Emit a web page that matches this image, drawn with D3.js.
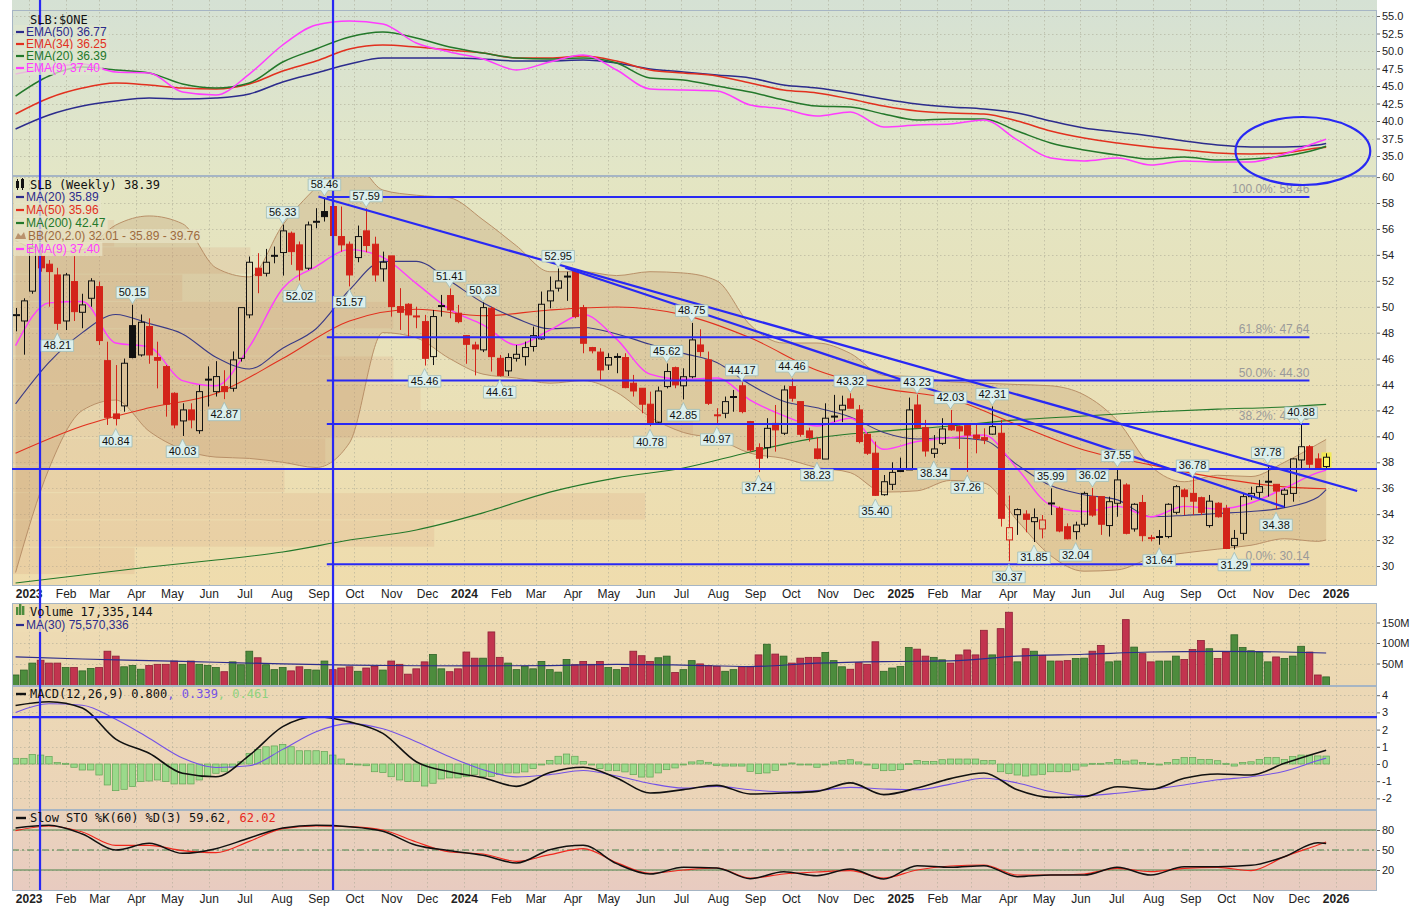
<!DOCTYPE html>
<html>
<head>
<meta charset="utf-8">
<script src="https://cdn.jsdelivr.net/npm/d3@7"></script>
<style>
  body { margin: 0; background: #fff; }
  svg { display: block; }
  text { font-family: "Liberation Sans", Arial, sans-serif; }
  .mono { font-family: "DejaVu Sans Mono", monospace; }
</style>
</head>
<body>
<svg id="chart" width="1416" height="908"></svg>
<script>
// ---------- data (weekly bars, first bar = week of 2022-12-19) ----------
const firstWeek = new Date(2022, 11, 21);

const opens = [
  49.3,48.9,51.2,53.9,53.28,52.45,48.9,51.94,49.57,50.65,
  51.55,45.84,41.73,42.35,48.54,46.28,48.47,46.08,45.38,43.32,
  41.19,42.04,40.44,44.35,43.45,43.84,43.71,46.02,49.37,52.97,
  52.58,53.9,54.18,55.67,54.77,52.97,56.5,57.34,57.73,55.41,
  54.82,53.79,55.85,54.82,52.92,53.92,50.01,50.19,49.3,48.85,
  46.15,50.0,50.86,49.5,47.77,47.05,46.67,49.88,46.02,45.05,
  46.02,46.15,46.93,47.52,50.45,51.43,52.3,52.71,49.93,46.85,
  46.5,45.5,46.1,46.08,44.1,43.71,42.48,41.09,43.84,45.3,
  43.9,44.6,47.05,45.9,41.65,41.78,43.0,43.9,41.14,39.13,
  39.13,41.0,40.24,43.84,42.68,40.42,39.03,38.25,41.5,42.04,
  42.89,42.04,40.16,38.7,35.5,36.3,37.3,37.41,42.42,40.67,
  38.69,39.46,40.83,40.75,40.83,40.1,39.9,40.17,40.24,32.01,
  33.96,34.0,33.42,32.86,34.8,34.45,33.03,32.65,33.22,35.35,
  35.35,33.12,34.84,36.25,32.86,34.9,32.2,32.2,32.27,34.14,
  35.86,35.6,35.27,33.12,34.84,34.45,31.57,32.52,35.35,35.68,
  36.5,36.3,35.53,35.6,38.18,39.2,38.26,37.67];
const highs = [
  49.9,50.65,55.2,54.4,53.6,53.0,52.6,53.9,51.0,52.2,
  51.94,47.3,45.5,46.0,50.15,49.4,49.1,47.3,45.5,43.4,
  42.55,42.55,43.97,45.4,45.8,45.1,46.55,49.93,53.87,54.13,
  54.46,54.64,56.33,55.8,55.03,56.57,57.6,58.46,58.11,57.73,
  55.03,56.26,57.59,55.4,54.25,53.92,51.43,50.27,50.0,49.37,
  49.75,50.91,51.41,50.14,47.8,47.3,50.33,50.0,46.28,46.41,
  47.05,47.31,48.47,51.17,52.33,52.95,52.7,52.84,50.14,46.9,
  46.8,46.41,46.41,46.41,44.74,43.71,43.45,43.84,45.62,45.38,
  45.25,48.75,48.26,46.54,42.17,43.07,43.58,44.17,41.19,39.46,
  41.4,42.42,43.92,44.46,42.68,40.67,39.9,42.55,43.2,43.14,
  43.32,42.42,40.24,39.6,37.02,38.0,38.36,42.99,43.23,41.27,
  40.1,41.4,42.03,40.83,40.83,40.88,40.62,42.31,41.27,35.43,
  34.44,34.3,34.44,33.93,35.99,34.58,33.29,33.42,35.74,36.02,
  35.35,35.35,37.55,36.38,34.84,35.48,32.4,32.78,34.84,36.25,
  35.99,36.78,35.35,35.48,34.92,34.7,32.78,35.6,36.12,36.64,
  37.78,36.3,35.99,38.31,40.88,39.33,38.69,38.69];
const lows = [
  48.1,46.3,51.0,52.7,50.0,48.21,48.2,48.9,48.34,50.0,
  47.05,40.88,40.84,41.9,46.02,46.15,45.6,43.7,41.52,40.62,
  40.03,40.62,40.2,42.3,43.07,42.87,43.45,45.77,49.11,51.04,
  52.33,53.35,52.4,53.23,52.02,52.84,56.05,56.57,55.28,54.25,
  51.57,53.43,54.2,51.94,51.94,49.24,48.21,47.7,48.34,45.46,
  45.5,49.24,49.11,48.72,45.6,44.7,46.5,45.0,44.61,44.65,
  45.77,45.46,46.54,47.44,49.88,51.17,50.45,49.11,46.41,46.4,
  44.35,45.12,44.87,43.71,43.07,41.78,40.78,41.01,43.7,43.71,
  42.85,44.48,46.15,42.42,40.97,41.4,41.9,41.78,38.82,37.24,
  38.31,38.82,40.1,42.68,39.98,39.6,38.23,38.25,41.1,41.1,
  42.17,39.46,38.57,35.4,35.42,35.86,37.28,37.41,40.62,38.44,
  38.34,39.34,40.42,39.03,37.26,38.69,39.4,40.12,33.04,30.37,
  32.4,32.6,31.85,32.13,33.93,32.6,32.06,32.04,33.04,33.8,
  32.4,32.27,33.8,32.44,32.65,31.9,31.9,31.64,32.14,33.99,
  33.93,33.93,33.93,32.96,33.73,31.32,31.29,32.0,35.1,35.22,
  35.35,34.38,34.5,34.96,37.48,37.43,37.41,37.54];
const closes = [
  49.4,50.45,54.6,53.0,52.71,48.72,52.45,49.62,50.14,51.99,
  47.39,41.47,41.37,45.64,46.08,48.8,46.28,45.87,42.48,40.88,
  42.04,41.27,43.45,44.4,44.61,43.45,45.9,49.93,53.43,52.4,
  53.43,53.95,55.85,54.25,52.84,56.31,56.6,56.95,55.49,54.77,
  52.45,55.41,54.72,52.45,53.43,50.01,49.57,49.37,49.2,46.02,
  49.24,50.1,49.75,48.85,47.1,46.74,49.93,46.15,44.7,46.08,
  46.33,46.85,47.77,50.19,51.22,51.99,52.35,49.24,47.18,46.6,
  45.12,46.08,46.15,43.76,43.5,42.48,41.01,43.5,45.0,43.97,
  44.6,47.44,46.54,42.55,41.6,42.68,43.07,41.91,38.95,38.31,
  40.62,40.5,43.58,42.94,40.16,39.9,38.3,41.4,41.55,42.4,
  42.17,39.6,38.7,35.45,36.5,37.22,37.35,42.04,40.67,38.87,
  39.03,40.57,40.5,40.42,40.1,39.85,39.72,40.75,33.68,32.96,
  34.35,33.6,33.73,33.55,34.85,32.7,32.1,33.16,35.6,33.93,
  33.22,34.96,36.64,32.52,34.76,32.34,32.1,32.27,34.76,36.12,
  35.35,35.0,34.14,35.0,33.8,31.35,32.13,35.35,35.6,36.12,
  36.5,35.78,35.85,38.26,39.2,37.85,37.54,38.39];
// weekly volume, millions of shares
const volumes = [
  22,34,51,58,51,51,40,40,32,38,
  40,80,68,42,45,36,45,48,48,56,
  48,56,48,45,40,30,54,47,80,64,
  47,35,40,32,42,35,34,56,35,39,
  42,31,39,43,34,56,48,24,37,54,
  72,37,30,37,78,63,63,127,65,51,
  35,43,37,55,35,29,60,47,55,48,
  55,40,35,40,80,69,55,64,68,28,
  35,57,49,45,43,31,35,42,43,71,
  97,73,68,51,63,65,65,77,57,42,
  36,52,48,103,31,39,43,89,85,68,
  65,59,51,71,83,71,131,71,135,175,
  54,86,80,70,56,56,57,62,63,80,
  94,54,56,157,90,74,54,56,56,68,
  60,84,106,86,62,78,120,89,81,78,
  54,66,62,68,92,78,22,17.335144];
const macdHist = [
  0.33,0.33,0.56,0.52,0.43,0.08,0.04,-0.19,-0.35,-0.35,
  -0.64,-1.22,-1.55,-1.47,-1.31,-1.02,-0.99,-0.93,-1.02,-1.16,
  -1.16,-1.16,-0.93,-0.74,-0.54,-0.45,-0.19,0.13,0.62,0.85,
  1.0,1.05,1.14,1.0,0.77,0.77,0.77,0.72,0.52,0.29,
  0.02,0.0,-0.1,-0.45,-0.5,-0.74,-0.93,-1.02,-1.02,-1.28,
  -1.12,-0.87,-0.81,-0.81,-0.74,-0.6,-0.72,-0.72,-0.62,-0.52,
  -0.52,-0.46,-0.27,0.0,0.21,0.45,0.58,0.45,0.15,-0.04,
  -0.27,-0.39,-0.39,-0.46,-0.62,-0.76,-0.76,-0.52,-0.33,-0.23,
  -0.04,0.12,0.19,0.1,-0.08,-0.12,-0.12,-0.12,-0.43,-0.56,
  -0.52,-0.37,-0.04,0.06,0.0,-0.04,-0.19,0.0,0.12,0.21,
  0.25,0.12,0.0,-0.27,-0.39,-0.37,-0.33,0.02,0.21,0.15,
  0.15,0.25,0.29,0.29,0.29,0.29,0.21,0.21,-0.45,-0.55,
  -0.64,-0.7,-0.64,-0.6,-0.45,-0.45,-0.45,-0.35,-0.12,0.04,
  0.04,0.08,0.27,0.17,0.23,0.08,0.04,0.0,0.08,0.27,
  0.37,0.37,0.27,0.27,0.19,0.04,-0.12,0.08,0.13,0.27,
  0.37,0.37,0.27,0.43,0.52,0.52,0.47,0.461];

// indicator lines read every 4 weeks (last value = latest bar)
const ma20 = [42.5,45.7,48.0,49.4,48.7,47.9,46.1,45.2,46.8,48.3, 51.3,53.5,53.5,52.0,50.3,49.1,48.3,48.4,47.9,47.1,
  46.4,45.7,44.0,42.7,42.2,41.5,40.3,39.8,39.9,39.7, 37.8,36.2,35.5,35.1,33.8,33.9,34.05,34.2,34.5,35.3, 35.89];
const ema9 = [47.0,50.3,50.4,47.2,46.9,44.3,43.9,46.9,51.4,53.1, 54.4,53.8,51.8,49.8,48.6,47.05,48.2,49.4,47.5,44.8,
  44.4,44.5,42.8,41.6,40.8,41.4,39.0,39.6,39.9,40.1, 37.5,34.7,34.2,34.6,33.8,34.6,34.4,34.86,36.0,37.2, 37.40];
const bbUpper = [55.1,54.2,54.4,56.3,57.0,56.4,53.0,52.3,56.3,59.2, 61.5,59.0,58.6,58.4,56.7,54.7,52.7,52.7,52.4,52.7,
  52.6,52.0,48.6,47.2,47.2,46.4,44.7,44.6,44.2,44.1, 44.0,43.9,43.2,41.2,37.7,36.5,37.0,36.9,38.0,39.4, 39.76];
const bbLower = [29.5,37.5,42.0,42.8,40.4,39.0,38.4,38.3,38.0,37.6, 39.5,48.0,47.6,46.0,44.8,44.5,44.1,44.3,43.4,41.5,
  40.3,39.8,38.7,38.3,37.6,37.2,35.7,35.8,36.6,36.4, 33.5,30.8,29.6,29.7,30.6,31.0,31.3,31.6,32.1,31.9, 32.01];
const topEma50 = [38.86,40.86,42.14,42.86,43.29,43.14,43.29,43.86,45.57,46.86, 48.14,49.0,49.0,49.0,48.86,48.57,48.57,48.71,48.29,47.43,
  47.0,46.57,46.14,45.14,44.71,44.0,43.14,42.43,42.0,41.71, 41.14,40.0,39.0,38.43,37.86,37.14,36.57,36.29,36.29,36.57, 36.77];
const topEma34 = [41.0,43.29,44.71,45.43,45.14,44.71,44.57,45.29,47.14,48.57, 50.29,50.86,50.57,50.14,49.71,49.0,49.0,49.29,48.57,47.29,
  46.86,46.43,45.43,44.43,44.0,43.14,42.14,41.43,41.14,41.0, 40.0,38.57,37.57,36.86,36.29,35.86,35.43,35.29,35.43,36.14, 36.25];
const topEma20 = [43.57,46.43,47.71,47.29,46.86,45.29,44.71,45.43,48.43,50.29, 52.0,52.71,51.86,50.57,49.71,49.0,48.86,49.0,48.29,46.14,
  45.86,45.0,44.14,43.0,42.14,42.0,41.0,40.14,40.29,40.29, 38.57,36.86,35.86,35.14,34.57,34.86,34.43,34.57,35.0,36.0, 36.39];
const topEma9 = [46.71,47.57,48.14,47.0,46.86,44.14,43.71,46.71,50.86,53.71, 54.29,53.86,51.14,49.86,48.86,47.29,48.43,49.43,47.29,44.57,
  44.43,44.29,42.29,41.71,40.71,41.29,39.14,39.43,39.57,40.14, 37.29,34.71,34.29,34.71,33.71,34.29,34.14,34.14,35.29,37.0, 37.40];
const macdLine = [3.4,3.62,3.25,1.45,0.62,-0.54,-0.74,0.5,2.17,2.75, 2.45,1.78,0.13,-0.45,-0.8,-1.3,-0.5,-0.19,-0.81,-1.69,
  -1.49,-1.24,-1.74,-1.69,-1.59,-1.1,-1.78,-1.4,-0.85,-0.52, -1.5,-1.94,-1.9,-1.32,-1.47,-0.83,-0.58,-0.64,0.04,0.66, 0.800];
const macdSignal = [3.0,3.5,3.42,2.6,1.5,0.35,-0.2,-0.1,0.85,1.88, 2.35,2.05,1.3,0.42,-0.33,-0.75,-0.62,-0.38,-0.7,-1.13,
  -1.4,-1.3,-1.5,-1.62,-1.55,-1.36,-1.45,-1.5,-1.17,-0.83, -1.1,-1.6,-1.84,-1.7,-1.48,-1.22,-0.92,-0.74,-0.42,0.2, 0.339];
const stoK = [83,87,74,50,60,45,52,68,83,87, 85,78,57,49,42,30.5,50.5,57,29.5,14,
  24,23,7,17.5,11.5,21.5,6.5,26.5,24,26.5, 10,12.5,12.5,24,12.5,25,25,27,40,61, 59.62];
const stoD = [79,86,77,57,57,49,46,63,82,86, 85,80,62,47,44,33,43,52,31,15,
  20,23,8,14,17,19,8,20,26,27.5, 12.5,12.5,14,22.5,17.5,22.5,24,19,40,57.5, 62.02];
// slower lines read every 8 weeks
const ma50 = [38.7,40.8,42.2,43.3,46.0,48.9,49.8,49.3,49.75,49.98,49.37,47.6,45.1,43.7,42.9,40.9,38.95,37.8,36.8,36.1,35.96];
const ma200 = [28.69,29.3,29.92,30.46,31.08,32.0,32.78,34.1,35.7,36.8,37.56,38.8,39.88,40.4,40.8,41.27,41.57,41.88,42.1,42.27,42.47];
const volMa30 = [66,61,57,53,49,46,44.5,44.2,45,48,46,42.6,50.7,54.8,56.4,68,72.5,78,79.7,78,75.570336];

// volume by price: zone floors (price) and relative volume
const vbpZoneLow = [29.34,31.45,33.55,35.66,37.77,39.87,41.98,44.09,46.19,48.30,50.41,52.51,54.62,56.73];
const vbpZoneSize = 2.107;
const vbpVolume = [18,62,93,40,46,100,60,56,47,56,25,35,15,9];

// swing callouts (bar index)
const highLabelBars = [14,32,37,42,52,56,65,78,81,87,93,100,108,112,117,124,129,132,141,150,154];
const lowLabelBars = [5,12,20,25,34,40,49,58,76,80,84,89,96,103,110,114,119,122,127,137,146,151];

// annotations
const fibLevels = [58.46, 47.64, 44.30, 40.96, 30.14];
const fibNames = ["100.0%", "61.8%", "50.0%", "38.2%", "0.0%"];
const fibSpan = [new Date(2023, 8, 8), new Date(2025, 11, 10)];
const supportPrice = 37.49;
const macdMark = 2.73;
const markDates = [new Date(2023, 0, 10, 12), new Date(2023, 8, 13, 5)];
const trendLines = [
  [[new Date(2023, 8, 1), 58.5], [new Date(2026, 0, 19), 35.79]],
  [[new Date(2024, 2, 26), 53.0], [new Date(2025, 10, 19), 34.55]]
];
const ellipseBox = [[new Date(2025, 9, 9), new Date(2026, 0, 30)], [30.86, 40.57]];

// axis ticks
const xTickLabels = ["2023","Feb","Mar","Apr","May","Jun","Jul","Aug","Sep","Oct","Nov","Dec",
  "2024","Feb","Mar","Apr","May","Jun","Jul","Aug","Sep","Oct","Nov","Dec",
  "2025","Feb","Mar","Apr","May","Jun","Jul","Aug","Sep","Oct","Nov","Dec","2026"];
const topTicks = [35, 37.5, 40, 42.5, 45, 47.5, 50, 52.5, 55];
const priceTicks = d3.range(30, 61, 2);
const volTicks = [50, 100, 150];
const macdTicks = [-2, -1, 0, 1, 2, 3, 4];
const stoTicks = [20, 50, 80];

// ---------- scales ----------
const svg = d3.select('#chart');
const L = 12, R = 1377;
const last = opens.length - 1;
const weekDates = d3.range(opens.length).map(i => d3.timeDay.offset(firstWeek, 7 * i));
const monthTicks = d3.timeMonth.range(new Date(2023, 0, 1), new Date(2026, 1, 1));

const x = d3.scaleTime().domain([new Date(2022, 11, 18), new Date(2026, 1, 4, 15, 36)]).range([L, R]);
const yTop = d3.scaleLinear().domain([35, 55]).range([156, 16]);
const yMain = d3.scaleLinear().domain([30, 58]).range([566, 203]);
const yVol = d3.scaleLinear().domain([0, 150]).range([684, 622.5]);
const yMacd = d3.scaleLinear().domain([0, 4]).range([764, 695.2]);
const ySto = d3.scaleLinear().domain([20, 80]).range([870, 830]);

const BLUE = '#2828f4';
const C = { navy: '#2c2c8c', red: '#e2301e', green: '#23782a', pink: '#ff3cff', purple: '#7452e6' };

// ---------- panels ----------
const defs = svg.append('defs');
const panels = {
  top:  { y0: 0,   y1: 176, c0: '#d5e1d4', c1: '#e3e6c6', y: yTop,  ticks: topTicks,   fmt: d3.format('.1f') },
  main: { y0: 176, y1: 586, c0: '#e3e5c3', c1: '#efdcad', y: yMain, ticks: priceTicks, fmt: d => d },
  vol:  { y0: 603, y1: 686, c0: '#eedcb3', c1: '#ecd8b3', y: yVol,  ticks: volTicks,   fmt: d => d + 'M' },
  macd: { y0: 686, y1: 810, c0: '#ecd8b5', c1: '#ebd4b8', y: yMacd, ticks: macdTicks,  fmt: d => (d < 0 ? '-' + Math.abs(d) : d) },
  sto:  { y0: 810, y1: 891, c0: '#ead3bc', c1: '#e8cbc0', y: ySto,  ticks: stoTicks,   fmt: d => d }
};

Object.entries(panels).forEach(([id, p]) => {
  const gr = defs.append('linearGradient').attr('id', 'bg-' + id)
    .attr('x1', 0).attr('x2', 0).attr('y1', 0).attr('y2', 1);
  gr.append('stop').attr('offset', 0).attr('stop-color', p.c0);
  gr.append('stop').attr('offset', 1).attr('stop-color', p.c1);
  defs.append('clipPath').attr('id', 'clip-' + id).append('rect')
    .attr('x', L).attr('y', p.y0).attr('width', R - L).attr('height', p.y1 - p.y0);

  p.g = svg.append('g');
  p.g.append('rect').attr('x', L).attr('y', p.y0).attr('width', R - L).attr('height', p.y1 - p.y0)
    .attr('fill', `url(#bg-${id})`);
  p.layer = p.g.append('g').attr('clip-path', `url(#clip-${id})`);

  const grid = p.layer.append('g').attr('stroke', '#a9a793').attr('stroke-opacity', 0.55)
    .attr('stroke-dasharray', '1.5,2.5');
  grid.selectAll('line.v').data(monthTicks).join('line').attr('class', 'v')
    .attr('x1', d => Math.round(x(d)) + 0.5).attr('x2', d => Math.round(x(d)) + 0.5)
    .attr('y1', p.y0).attr('y2', p.y1);
  grid.selectAll('line.h').data(p.ticks).join('line').attr('class', 'h')
    .attr('x1', L).attr('x2', R)
    .attr('y1', d => Math.round(p.y(d)) + 0.5).attr('y2', d => Math.round(p.y(d)) + 0.5);

  const ax = svg.append('g').attr('transform', `translate(${R},0)`)
    .call(d3.axisRight(p.y).tickValues(p.ticks).tickSize(3).tickPadding(2).tickFormat(p.fmt));
  ax.select('.domain').remove();
  ax.selectAll('line').attr('stroke', '#666');
  ax.selectAll('text').attr('font-size', 11).attr('fill', '#222')
    .attr('font-family', '"Liberation Sans", Arial, sans-serif');
});

// ---------- helpers ----------
function sparse(vals, step) {
  return vals.map((v, k) => ({ d: weekDates[k === vals.length - 1 ? last : k * step], v }));
}
function drawLine(layer, y, vals, step, color, width) {
  layer.append('path').datum(sparse(vals, step))
    .attr('fill', 'none').attr('stroke', color).attr('stroke-width', width)
    .attr('stroke-linejoin', 'round')
    .attr('d', d3.line().x(p => x(p.d)).y(p => y(p.v)).curve(d3.curveMonotoneX));
}
const isUp = i => i === 0 || closes[i] >= closes[i - 1];

// ---------- top panel: SLB:$ONE EMAs ----------
const topP = panels.top;
drawLine(topP.layer, yTop, topEma50, 4, C.navy, 1.5);
drawLine(topP.layer, yTop, topEma34, 4, C.red, 1.5);
drawLine(topP.layer, yTop, topEma20, 4, C.green, 1.5);
drawLine(topP.layer, yTop, topEma9, 4, C.pink, 1.5);

// ---------- price panel ----------
const mainP = panels.main;
const vbpW = d3.scaleLinear().domain([0, 100]).range([0, 681]);
mainP.layer.append('g').selectAll('rect').data(vbpZoneLow).join('rect')
  .attr('x', L)
  .attr('y', lo => yMain(lo + vbpZoneSize) + 0.5)
  .attr('height', lo => yMain(lo) - yMain(lo + vbpZoneSize) - 1)
  .attr('width', (lo, k) => vbpW(vbpVolume[k]))
  .attr('fill', '#d9a47e').attr('fill-opacity', 0.22);

const bbPts = sparse(bbUpper, 4).map((p, k) => ({ d: p.d, u: p.v, l: bbLower[k] }));
mainP.layer.append('path').datum(bbPts)
  .attr('fill', '#b98c5e').attr('fill-opacity', 0.26)
  .attr('d', d3.area().x(p => x(p.d)).y0(p => yMain(p.l)).y1(p => yMain(p.u)).curve(d3.curveMonotoneX));
drawLine(mainP.layer, yMain, bbUpper, 4, '#b99068', 1);
drawLine(mainP.layer, yMain, bbLower, 4, '#b99068', 1);
drawLine(mainP.layer, yMain, ma200, 8, C.green, 1.1);
drawLine(mainP.layer, yMain, ma50, 8, C.red, 1.1);
drawLine(mainP.layer, yMain, ma20, 4, '#3a3a86', 1.1);
drawLine(mainP.layer, yMain, ema9, 4, C.pink, 1.4);

// candles
const cg = mainP.layer.append('g');
weekDates.forEach((d, i) => {
  const cx = Math.round(x(d)) + 0.5;
  const o = opens[i], c = closes[i], h = highs[i], l = lows[i];
  const col = isUp(i) ? '#111' : '#d3241a';
  const yt = yMain(Math.max(o, c)), yb = yMain(Math.min(o, c));
  const filled = c < o;
  if (i === last) {
    cg.append('rect').attr('x', cx - 5).attr('y', yMain(h) - 1).attr('width', 10)
      .attr('height', yMain(l) - yMain(h) + 2).attr('fill', '#f3eb4c').attr('fill-opacity', 0.9);
  }
  if (filled) {
    cg.append('line').attr('x1', cx).attr('x2', cx).attr('y1', yMain(h)).attr('y2', yMain(l)).attr('stroke', col);
  } else {
    cg.append('line').attr('x1', cx).attr('x2', cx).attr('y1', yMain(h)).attr('y2', yt).attr('stroke', col);
    cg.append('line').attr('x1', cx).attr('x2', cx).attr('y1', yb).attr('y2', yMain(l)).attr('stroke', col);
  }
  if (yb - yt < 1.5) {
    cg.append('line').attr('x1', cx - 3.5).attr('x2', cx + 3.5).attr('y1', (yt + yb) / 2).attr('y2', (yt + yb) / 2)
      .attr('stroke', col).attr('stroke-width', 2);
  } else {
    cg.append('rect').attr('x', cx - 3).attr('y', yt).attr('width', 6).attr('height', yb - yt)
      .attr('fill', filled ? col : (i === last ? '#faf46a' : 'none'))
      .attr('stroke', col).attr('stroke-width', 1);
  }
});

// horizontal support line, fib levels
const ann = svg.append('g');
ann.append('line').attr('x1', L).attr('x2', R).attr('y1', yMain(supportPrice)).attr('y2', yMain(supportPrice))
  .attr('stroke', BLUE).attr('stroke-width', 2);
fibLevels.forEach((lv, k) => {
  ann.append('line').attr('x1', x(fibSpan[0])).attr('x2', x(fibSpan[1]))
    .attr('y1', yMain(lv)).attr('y2', yMain(lv)).attr('stroke', BLUE).attr('stroke-width', 2);
  ann.append('text').attr('x', x(fibSpan[1])).attr('y', yMain(lv) - 4).attr('text-anchor', 'end')
    .attr('font-size', 12).attr('fill', '#9a9a9a').text(`${fibNames[k]}: ${lv.toFixed(2)}`);
});

// callouts
const callG = svg.append('g');
function callout(i, above) {
  const cx = x(weekDates[i]);
  const yp = yMain(above ? highs[i] : lows[i]);
  const t = callG.append('text').attr('font-size', 11).attr('text-anchor', 'middle').attr('fill', '#111')
    .text(d3.format('.2f')(above ? highs[i] : lows[i]));
  const w = t.node().getComputedTextLength() + 5, h = 11.5;
  let topY, path;
  if (above) {
    const bot = yp - 6.5; topY = bot - h;
    path = `M${cx - w / 2},${topY}H${cx + w / 2}V${bot}H${cx + 3.5}L${cx},${yp - 1}L${cx - 3.5},${bot}H${cx - w / 2}Z`;
  } else {
    topY = yp + 10;
    path = `M${cx - w / 2},${topY}H${cx - 3.5}L${cx},${yp + 3}L${cx + 3.5},${topY}H${cx + w / 2}V${topY + h}H${cx - w / 2}Z`;
  }
  callG.insert('path', () => t.node()).attr('d', path)
    .attr('fill', '#dcefec').attr('stroke', '#9fbcb8').attr('stroke-width', 0.8);
  t.attr('x', cx).attr('y', topY + 9.3);
}
highLabelBars.forEach(i => callout(i, true));
lowLabelBars.forEach(i => callout(i, false));

// trend lines
trendLines.forEach(tl => {
  ann.append('line').attr('x1', x(tl[0][0])).attr('y1', yMain(tl[0][1]))
    .attr('x2', x(tl[1][0])).attr('y2', yMain(tl[1][1])).attr('stroke', BLUE).attr('stroke-width', 2.2);
});

// ---------- volume ----------
const volP = panels.vol;
volP.layer.selectAll('rect.bar').data(volumes).join('rect').attr('class', 'bar')
  .attr('x', (v, i) => x(weekDates[i]) - 3.4).attr('width', 6.8)
  .attr('y', v => yVol(v)).attr('height', v => yVol(0) - yVol(v) + 2)
  .attr('fill', (v, i) => isUp(i) ? '#4d8c3d' : '#c2344f')
  .attr('stroke', (v, i) => isUp(i) ? '#2f6326' : '#8c1f35').attr('stroke-width', 0.8);
drawLine(volP.layer, yVol, volMa30, 8, C.navy, 1.2);

// ---------- MACD ----------
const macdP = panels.macd;
macdP.layer.selectAll('rect.h').data(macdHist).join('rect').attr('class', 'h')
  .attr('x', (v, i) => x(weekDates[i]) - 3.2).attr('width', 6.4)
  .attr('y', v => yMacd(Math.max(v, 0)))
  .attr('height', v => Math.max(1, Math.abs(yMacd(v) - yMacd(0))))
  .attr('fill', '#9bd98b').attr('stroke', '#62a455').attr('stroke-width', 0.7);
drawLine(macdP.layer, yMacd, macdSignal, 4, C.purple, 1.1);
drawLine(macdP.layer, yMacd, macdLine, 4, '#111', 1.6);
ann.append('line').attr('x1', L).attr('x2', R).attr('y1', yMacd(macdMark)).attr('y2', yMacd(macdMark))
  .attr('stroke', BLUE).attr('stroke-width', 2.2);

// ---------- Slow STO ----------
const stoP = panels.sto;
[80, 20].forEach(v => stoP.layer.append('line').attr('x1', L).attr('x2', R)
  .attr('y1', ySto(v)).attr('y2', ySto(v)).attr('stroke', '#4b844a').attr('stroke-width', 1.2));
stoP.layer.append('line').attr('x1', L).attr('x2', R).attr('y1', ySto(50)).attr('y2', ySto(50))
  .attr('stroke', '#4b844a').attr('stroke-width', 1.1).attr('stroke-dasharray', '7,3,2,3');
drawLine(stoP.layer, ySto, stoD, 4, '#f0281e', 1.2);
drawLine(stoP.layer, ySto, stoK, 4, '#111', 1.5);

// ---------- frames ----------
Object.values(panels).forEach(p => {
  svg.append('rect').attr('x', L + 0.5).attr('y', Math.max(p.y0, 10) + 0.5)
    .attr('width', R - L - 1).attr('height', p.y1 - Math.max(p.y0, 10) - 1)
    .attr('fill', 'none').attr('stroke', '#a6b5c4');
});

// ---------- date axes ----------
[586, 891].forEach(yy => {
  const ax = svg.append('g').attr('transform', `translate(0,${yy})`)
    .call(d3.axisBottom(x).tickValues(monthTicks).tickSize(0).tickPadding(3.5)
      .tickFormat((d, i) => xTickLabels[i]));
  ax.select('.domain').remove();
  ax.selectAll('text').attr('font-size', 12).attr('fill', '#222')
    .attr('font-family', '"Liberation Sans", Arial, sans-serif')
    .attr('font-weight', (d, i) => /^\d/.test(xTickLabels[i]) ? 'bold' : 'normal');
});

// ---------- ellipse + vertical markers ----------
const ex0 = x(ellipseBox[0][0]), ex1 = x(ellipseBox[0][1]);
const ey0 = yTop(ellipseBox[1][1]), ey1 = yTop(ellipseBox[1][0]);
ann.append('ellipse').attr('cx', (ex0 + ex1) / 2).attr('cy', (ey0 + ey1) / 2)
  .attr('rx', (ex1 - ex0) / 2).attr('ry', (ey1 - ey0) / 2)
  .attr('fill', 'none').attr('stroke', BLUE).attr('stroke-width', 2.2);
ann.raise();
markDates.forEach(d => {
  ann.append('line').attr('x1', x(d)).attr('x2', x(d)).attr('y1', 0).attr('y2', 890)
    .attr('stroke', BLUE).attr('stroke-width', 2.2);
});
callG.raise();

// ---------- legends ----------
const leg = svg.append('g');
const f2 = d3.format('.2f');
function legItem(xx, yy, label, color, bg) {
  const t = leg.append('text').attr('x', xx + 12).attr('y', yy).attr('font-size', 12).attr('fill', color).text(label);
  const bb = t.node().getBBox();
  leg.insert('rect', () => t.node()).attr('x', xx).attr('y', bb.y).attr('width', bb.width + 14).attr('height', bb.height)
    .attr('fill', bg).attr('fill-opacity', 0.75);
  leg.append('line').attr('x1', xx + 2).attr('x2', xx + 10).attr('y1', yy - 4).attr('y2', yy - 4)
    .attr('stroke', color).attr('stroke-width', 2.2);
}
function monoTitle(xx, yy, parts) {
  const t = leg.append('text').attr('class', 'mono').attr('x', xx).attr('y', yy).attr('font-size', 12);
  parts.forEach(([s, c]) => t.append('tspan').attr('fill', c).text(s));
  return t;
}

// top panel legend
monoTitle(30, 24, [['SLB:$ONE', '#111']]);
[['EMA(50)', topEma50, C.navy], ['EMA(34)', topEma34, C.red], ['EMA(20)', topEma20, C.green], ['EMA(9)', topEma9, C.pink]]
  .forEach(([n, arr, col], k) => legItem(14, 36 + 12 * k, `${n} ${f2(arr[arr.length - 1])}`, col, '#dfe6cf'));

// price panel legend
leg.append('rect').attr('x', 16).attr('y', 181).attr('width', 3).attr('height', 7).attr('fill', '#111');
leg.append('rect').attr('x', 21).attr('y', 179).attr('width', 3).attr('height', 9).attr('fill', '#111');
leg.append('line').attr('x1', 17.5).attr('x2', 17.5).attr('y1', 179).attr('y2', 190).attr('stroke', '#111');
leg.append('line').attr('x1', 22.5).attr('x2', 22.5).attr('y1', 178).attr('y2', 190).attr('stroke', '#111');
monoTitle(30, 189, [[`SLB (Weekly) ${f2(closes[last])}`, '#111']]);
legItem(14, 201, `MA(20) ${f2(ma20[ma20.length - 1])}`, C.navy, '#e6e6c8');
legItem(14, 214, `MA(50) ${f2(ma50[ma50.length - 1])}`, C.red, '#e6e6c8');
legItem(14, 227, `MA(200) ${f2(ma200[ma200.length - 1])}`, C.green, '#e6e6c8');
const bbTxt = `BB(20,2.0) ${f2(bbLower[bbLower.length - 1])} - ${f2(ma20[ma20.length - 1])} - ${f2(bbUpper[bbUpper.length - 1])}`;
const bbT = leg.append('text').attr('x', 28).attr('y', 240).attr('font-size', 12).attr('fill', '#9d6b3e').text(bbTxt);
const bbBox = bbT.node().getBBox();
leg.insert('rect', () => bbT.node()).attr('x', 14).attr('y', bbBox.y).attr('width', bbBox.width + 14)
  .attr('height', bbBox.height).attr('fill', '#e6e1c4').attr('fill-opacity', 0.75);
leg.append('path').attr('d', 'M15,239L18,233L21,236L24,232L26,239Z').attr('fill', '#b9926c');
legItem(14, 253, `EMA(9) ${f2(ema9[ema9.length - 1])}`, C.pink, '#e9e3c4');

// volume legend
[[16, 4], [19, 7], [22, 5]].forEach(([xx, hh]) =>
  leg.append('rect').attr('x', xx).attr('y', 615 - hh - 4).attr('width', 2.4).attr('height', hh + 4).attr('fill', '#4d8c3d'));
monoTitle(30, 616, [[`Volume ${d3.format(',')(Math.round(volumes[last] * 1e6))}`, '#111']]);
legItem(14, 629, `MA(30) ${d3.format(',')(Math.round(volMa30[volMa30.length - 1] * 1e6))}`, C.navy, '#eddcb4');

// MACD legend
leg.append('line').attr('x1', 16).attr('x2', 26).attr('y1', 694).attr('y2', 694).attr('stroke', '#111').attr('stroke-width', 2.4);
monoTitle(30, 698, [
  [`MACD(12,26,9) ${macdLine[macdLine.length - 1].toFixed(3)}`, '#111'],
  [`, ${macdSignal[macdSignal.length - 1].toFixed(3)}`, C.purple],
  [`, ${macdHist[last].toFixed(3)}`, '#8fd27f']]);

// STO legend
leg.append('line').attr('x1', 16).attr('x2', 26).attr('y1', 818).attr('y2', 818).attr('stroke', '#111').attr('stroke-width', 2.4);
monoTitle(30, 822, [
  [`Slow STO %K(60) %D(3) ${f2(stoK[stoK.length - 1])}`, '#111'],
  [`, ${f2(stoD[stoD.length - 1])}`, '#e8281e']]);
</script>
</body>
</html>
